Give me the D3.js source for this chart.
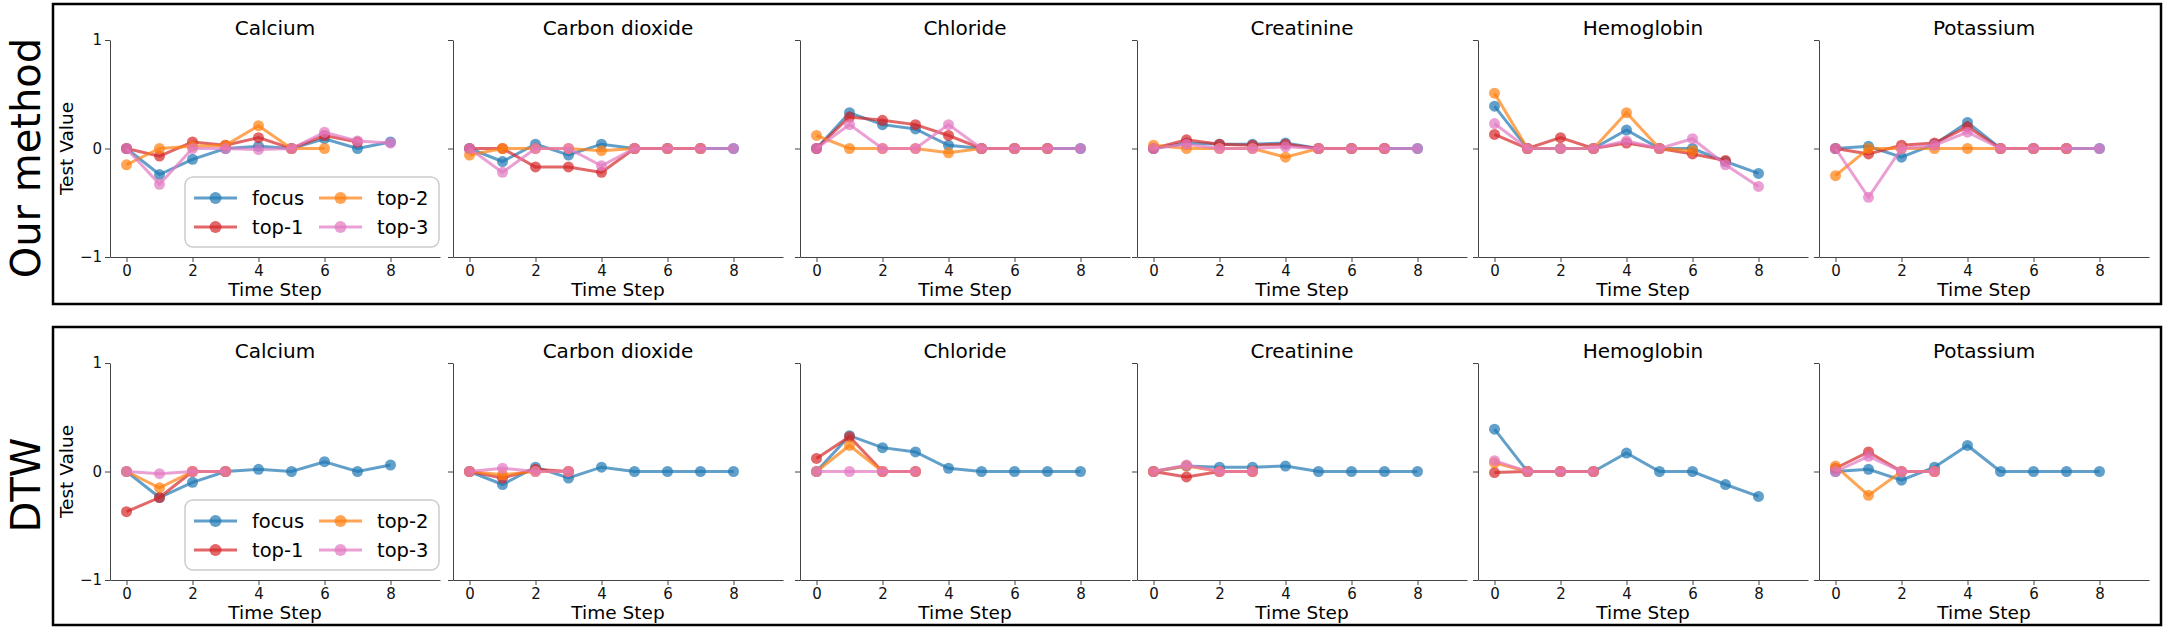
<!DOCTYPE html>
<html>
<head>
<meta charset="UTF-8">
<title>Our method vs DTW</title>
<style>
    body { margin: 0; background: #fff; font-family: "DejaVu Sans", sans-serif; }
    .axis path, .axis line { stroke: #444; stroke-width: 1; }
    .axis text { font-family: "DejaVu Sans", sans-serif; font-size: 15px; fill: #111; }
</style>
</head>
<body>
<div id="chart"></div>
<script src="https://cdnjs.cloudflare.com/ajax/libs/d3/7.8.5/d3.min.js"></script>
<script>
    const tests = ["Calcium", "Carbon dioxide", "Chloride", "Creatinine", "Hemoglobin", "Potassium"];
    const methods = ["Our method", "DTW"];
    const seriesNames = ["focus", "top-1", "top-2", "top-3"];
    const seriesColors = ["#1f77b4", "#d62728", "#ff7f0e", "#e377c2"];
    const xTicks = [0, 2, 4, 6, 8];
    const yTicks = [-1, 0, 1];

    // focus series, same in both rows (one array per test)
    const focus = [
        [0, -0.24, -0.10, 0, 0.02, 0, 0.09, 0, 0.06],
        [0, -0.12, 0.04, -0.06, 0.04, 0, 0, 0, 0],
        [0, 0.33, 0.22, 0.18, 0.03, 0, 0, 0, 0],
        [0, 0.05, 0.04, 0.04, 0.05, 0, 0, 0, 0],
        [0.39, 0, 0, 0, 0.17, 0, 0, -0.12, -0.23],
        [0, 0.02, -0.08, 0.04, 0.24, 0, 0, 0, 0]
    ];

    // our method: top-k matches
    const oursTop1 = [
        [0, -0.07, 0.06, 0.03, 0.10, 0, 0.12, 0.06],
        [0, 0, -0.17, -0.17, -0.22, 0, 0, 0],
        [0, 0.29, 0.26, 0.22, 0.12, 0, 0, 0],
        [0, 0.08, 0.04, 0.03, 0.04, 0, 0, 0],
        [0.13, 0, 0.10, 0, 0.05, 0, -0.05, -0.11],
        [0, -0.05, 0.03, 0.05, 0.20, 0, 0, 0]
    ];
    const oursTop2 = [
        [-0.15, 0, 0.02, 0.03, 0.21, 0, 0],
        [-0.06, 0, 0, 0, -0.02, 0, 0, 0],
        [0.12, 0, 0, 0, -0.04, 0, 0, 0],
        [0.03, 0, 0, 0, -0.08, 0, 0, 0],
        [0.51, 0, 0, 0, 0.33, 0, -0.02],
        [-0.25, 0, 0, 0, 0, 0, 0, 0]
    ];
    const oursTop3 = [
        [0, -0.33, 0, 0, -0.01, 0, 0.15, 0.07, 0.05],
        [0, -0.22, 0, 0, -0.16, 0, 0, 0, 0],
        [0, 0.22, 0, 0, 0.22, 0, 0, 0, 0],
        [0, 0.04, 0, 0, 0.015, 0, 0, 0, 0],
        [0.23, 0, 0, 0, 0.07, 0, 0.09, -0.15, -0.35],
        [0, -0.45, 0, 0.03, 0.15, 0, 0, 0, 0]
    ];

    // DTW: top-k matches (4 steps each)
    const dtwTop1 = [
        [-0.37, -0.24, 0, 0],
        [0, -0.06, 0.02, 0],
        [0.12, 0.32, 0, 0],
        [0, -0.05, 0, 0],
        [-0.01, 0, 0, 0],
        [0.03, 0.18, 0, 0]
    ];
    const dtwTop2 = [
        [0, -0.15, 0, 0],
        [0, -0.03, 0, 0],
        [0, 0.24, 0, 0],
        [0, 0.05, 0, 0],
        [0.08, 0, 0, 0],
        [0.05, -0.22, 0, 0]
    ];
    const dtwTop3 = [
        [0, -0.02, 0, 0],
        [0, 0.03, 0, 0],
        [0, 0, 0, 0],
        [0, 0.06, 0, 0],
        [0.10, 0, 0, 0],
        [0, 0.14, 0, 0]
    ];

    const rowSeries = [
        [focus, oursTop1, oursTop2, oursTop3],
        [focus, dtwTop1, dtwTop2, dtwTop3]
    ];

    const width = 2164, height = 631;
    const panelLeft = [110, 453, 800, 1137, 1478, 1819];
    const panelW = 330, panelH = 217;
    const rowTop = [40, 363];
    const boxes = [[53, 4, 2108, 300], [53, 327, 2108, 298]];
    const labelY = [158, 485];

    const svg = d3.select("#chart").append("svg")
        .attr("width", width)
        .attr("height", height);

    const x = d3.scaleLinear().domain([-0.5, 9.5]).range([0, panelW]);
    const y = d3.scaleLinear().domain([-1, 1]).range([panelH, 0]);

    const line = d3.line()
        .x((d, i) => x(i))
        .y(d => y(d));

    methods.forEach((m, r) => {
        // frame round each row
        svg.append("rect")
            .attr("x", boxes[r][0]).attr("y", boxes[r][1])
            .attr("width", boxes[r][2]).attr("height", boxes[r][3])
            .attr("fill", "none").attr("stroke", "#000").attr("stroke-width", 2.5);

        svg.append("text")
            .attr("transform", `translate(40,${labelY[r]}) rotate(-90)`)
            .attr("text-anchor", "middle")
            .style("font-size", "40px")
            .text(m);

        tests.forEach((t, c) => {
            const g = svg.append("g")
                .attr("transform", `translate(${panelLeft[c]},${rowTop[r]})`);

            const yAxis = d3.axisLeft(y).tickValues(yTicks).tickSize(5).tickSizeOuter(0)
                .tickFormat(d => c === 0 ? (d < 0 ? "\u2212" + Math.abs(d) : d) : "");
            g.append("g").attr("class", "axis").call(yAxis);

            g.append("g").attr("class", "axis")
                .attr("transform", `translate(0,${panelH})`)
                .call(d3.axisBottom(x).tickValues(xTicks).tickSize(5).tickSizeOuter(0));

            g.append("text")
                .attr("x", panelW / 2).attr("y", -5)
                .attr("text-anchor", "middle")
                .style("font-size", "20px")
                .text(t);

            g.append("text")
                .attr("x", panelW / 2).attr("y", panelH + 39)
                .attr("text-anchor", "middle")
                .style("font-size", "18.5px")
                .text("Time Step");

            if (c === 0) {
                g.append("text")
                    .attr("transform", `translate(-37,${y(0)}) rotate(-90)`)
                    .attr("text-anchor", "middle")
                    .style("font-size", "18.5px")
                    .text("Test Value");
            }

            rowSeries[r].forEach((arr, s) => {
                const vals = arr[c];
                g.append("path")
                    .datum(vals)
                    .attr("d", line)
                    .attr("fill", "none")
                    .attr("stroke", seriesColors[s])
                    .attr("stroke-opacity", 0.7)
                    .attr("stroke-width", 3);
                g.selectAll(null)
                    .data(vals)
                    .enter().append("circle")
                    .attr("cx", (d, i) => x(i))
                    .attr("cy", d => y(d))
                    .attr("r", 5.5)
                    .attr("fill", seriesColors[s])
                    .attr("fill-opacity", 0.7);
            });

            if (c === 0) {
                const lg = g.append("g")
                    .attr("transform", `translate(${185 - panelLeft[0]},${137})`);
                lg.append("rect")
                    .attr("width", 254).attr("height", 70)
                    .attr("rx", 8)
                    .attr("fill", "#fff").attr("fill-opacity", 0.8)
                    .attr("stroke", "#ccc").attr("stroke-width", 1.5);
                // two columns: focus / top-1, then top-2 / top-3
                seriesNames.forEach((name, s) => {
                    const col = Math.floor(s / 2), row = s % 2;
                    const ex = 9 + col * 125, ey = 21 + row * 29;
                    const e = lg.append("g").attr("transform", `translate(${ex},${ey})`);
                    e.append("line")
                        .attr("x1", 0).attr("x2", 43)
                        .attr("stroke", seriesColors[s]).attr("stroke-opacity", 0.7)
                        .attr("stroke-width", 3);
                    e.append("circle")
                        .attr("cx", 21.5).attr("r", 6)
                        .attr("fill", seriesColors[s]).attr("fill-opacity", 0.7);
                    e.append("text")
                        .attr("x", 58).attr("y", 7)
                        .style("font-size", "19.5px")
                        .text(name);
                });
            }
        });
    });
</script>
</body>
</html>
